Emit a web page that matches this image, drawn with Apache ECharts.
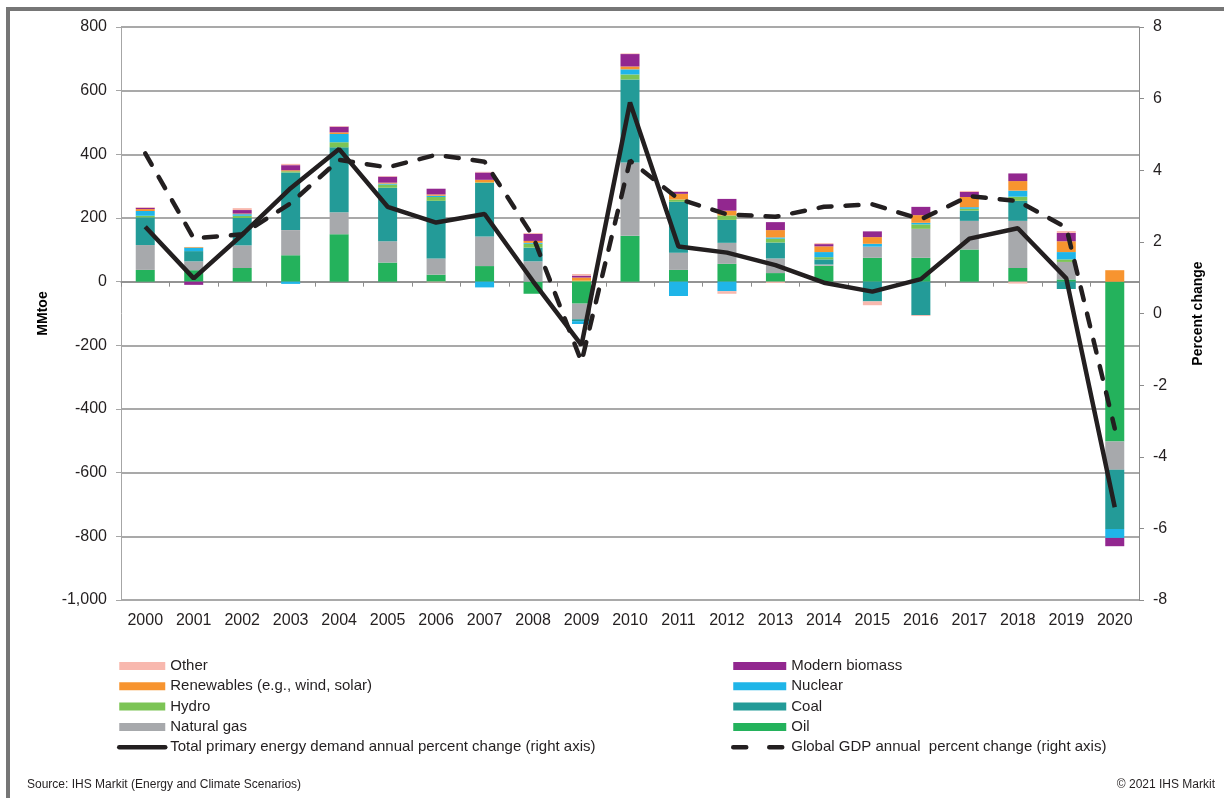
<!DOCTYPE html>
<html>
<head>
<meta charset="utf-8">
<script src="https://cdn.jsdelivr.net/npm/echarts@6/dist/echarts.min.js"></script>
<style>
html, body { margin: 0; padding: 0; background: #fff; }
#container { width: 1224px; height: 798px; }
</style>
</head>
<body>
<div id="container"></div>
<script>
// categories
var years = ['2000','2001','2002','2003','2004','2005','2006','2007','2008','2009','2010',
             '2011','2012','2013','2014','2015','2016','2017','2018','2019','2020'];

// MMtoe change by fuel (left axis)
var oil      = [37, 36, 43, 83, 149, 60, 22, 49, -38, -69, 144, 37, 56, 27, 50, 75, 75, 101, 43, 7, -502];
var gas      = [78, 28, 71, 79, 69, 67, 51, 93, 64, -49, 230, 54, 66, 46, 4, 35, 91, 90, 148, 55, -89];
var coal     = [87, 32, 86, 181, 204, 168, 181, 168, 43, -6, 261, 160, 72, 50, 16, -62, -105, 32, 63, -23, -186];
var hydro    = [5, 0, 7, 4, 16, 10, 12, 2, 12, 3, 16, 7, 14, 12, 7, 0, 14, 6, 13, 8, 0];
var nuclear  = [15, 11, 5, -7, 26, 3, 4, -18, 3, -9, 16, -45, -30, 4, 16, 9, 5, 5, 19, 23, -28];
var renew    = [6, 2, 2, 3, 5, 3, 4, 8, 6, 10, 9, 18, 15, 23, 18, 21, 24, 32, 30, 34, 36];
var biomass  = [4, -10, 11, 16, 18, 19, 18, 23, 22, 6, 39, 6, 37, 25, 7, 18, 26, 16, 24, 26, -26];
var other    = [2, 0, 6, 4, 2, 2, -2, 2, 3, 5, 2, 2, -8, -4, 3, -12, -3, 3, -6, 6, 0];

// percent change (right axis)
var totalDemand = [2.42, 0.98, 2.2, 3.5, 4.59, 2.98, 2.54, 2.78, 0.9, -0.88, 5.89, 1.87, 1.70, 1.35, 0.86, 0.61, 0.96, 2.09, 2.38, 0.98, -5.41];
var gdp         = [4.47, 2.10, 2.21, 3.08, 4.29, 4.08, 4.43, 4.24, 2.15, -1.35, 4.27, 3.2, 2.77, 2.70, 2.98, 3.05, 2.63, 3.28, 3.14, 2.4, -3.21];

var chart = echarts.init(document.getElementById('container'));
var font = 'Liberation Sans, Arial, sans-serif';

function bar(name, data, color) {
    return {
        name: name, type: 'bar', stack: 'fuel', data: data,
        barWidth: 19,
        itemStyle: { color: color },
        emphasis: { disabled: true }
    };
}

var option = {
    animation: false,
    textStyle: { fontFamily: font },
    grid: { left: 121, right: 85, top: 27, bottom: 198 },
    legend: [
        {   // left column
            orient: 'vertical', left: 112, top: 651,
            itemWidth: 46, itemHeight: 8, itemGap: 0.3,
            textStyle: { fontSize: 15, color: '#231f20', lineHeight: 20 },
            data: [
                { name: 'Other', icon: 'rect' },
                { name: 'Renewables (e.g., wind, solar)', icon: 'rect' },
                { name: 'Hydro', icon: 'rect' },
                { name: 'Natural gas', icon: 'rect' },
                { name: 'Total primary energy demand annual percent change (right axis)',
                  itemStyle: { opacity: 0 }, lineStyle: { width: 4.5, cap: 'round' } }
            ]
        },
        {   // right column
            orient: 'vertical', left: 726, top: 651,
            itemWidth: 53, itemHeight: 8, itemGap: 0.3,
            textStyle: { fontSize: 15, color: '#231f20', lineHeight: 20 },
            data: [
                { name: 'Modern biomass', icon: 'rect' },
                { name: 'Nuclear', icon: 'rect' },
                { name: 'Coal', icon: 'rect' },
                { name: 'Oil', icon: 'rect' },
                { name: 'Global GDP annual  percent change (right axis)',
                  itemStyle: { opacity: 0 }, lineStyle: { width: 4.5, type: [13, 23], cap: 'round' } }
            ]
        }
    ],
    xAxis: [
        {   // labels at the bottom
            type: 'category', data: years, position: 'bottom',
            axisLine: { show: false, onZero: false },
            axisTick: { show: false },
            axisLabel: { fontSize: 16, color: '#231f20', margin: 13 }
        },
        {   // zero line with ticks
            type: 'category', data: years, position: 'bottom',
            axisLine: { show: true, onZero: true, onZeroAxisIndex: 0, lineStyle: { color: '#8c8c8c', width: 1.5 } },
            axisTick: { show: true, length: 5, lineStyle: { color: '#8c8c8c' } },
            axisLabel: { show: false }
        }
    ],
    yAxis: [
        {   // 左轴 MMtoe
            type: 'value', min: -1000, max: 800, interval: 200,
            name: 'MMtoe', nameLocation: 'middle', nameGap: 71, nameRotate: 90,
            nameTextStyle: { fontSize: 14, fontWeight: 'bold', color: '#000' },
            axisLine: { show: true, lineStyle: { color: '#a6a6a6' } },
            axisTick: { show: true, length: 5, lineStyle: { color: '#a6a6a6' } },
            axisLabel: {
                fontSize: 16, color: '#231f20', margin: 14,
                formatter: function (v) { return v.toLocaleString('en-US'); }
            },
            splitLine: { lineStyle: { color: '#8c8c8c', width: 1.5 } }
        },
        {   // 右轴 percent
            type: 'value', min: -8, max: 8, interval: 2,
            name: 'Percent change', nameLocation: 'middle', nameGap: 52, nameRotate: 90,
            nameTextStyle: { fontSize: 14, fontWeight: 'bold', color: '#000' },
            axisLine: { show: true, lineStyle: { color: '#8c8c8c' } },
            axisTick: { show: true, length: 5, lineStyle: { color: '#8c8c8c' } },
            axisLabel: { fontSize: 16, color: '#231f20', margin: 14 },
            splitLine: { show: false }
        }
    ],
    series: [
        bar('Oil', oil, '#24b25c'),
        bar('Natural gas', gas, '#a7a9ac'),
        bar('Coal', coal, '#239b98'),
        bar('Hydro', hydro, '#7cc455'),
        bar('Nuclear', nuclear, '#1fb5e8'),
        bar('Renewables (e.g., wind, solar)', renew, '#f7942f'),
        bar('Modern biomass', biomass, '#92278f'),
        bar('Other', other, '#f8b8ae'),
        {
            name: 'Total primary energy demand annual percent change (right axis)',
            type: 'line', yAxisIndex: 1, data: totalDemand, symbol: 'none', z: 5,
            lineStyle: { color: '#231f20', width: 4.5 },
            itemStyle: { color: '#231f20' }
        },
        {
            name: 'Global GDP annual  percent change (right axis)',
            type: 'line', yAxisIndex: 1, data: gdp, symbol: 'none', z: 5,
            lineStyle: { color: '#231f20', width: 4.5, type: [13, 14], cap: 'round' },
            itemStyle: { color: '#231f20' }
        }
    ],
    graphic: [
        { type: 'line', shape: { x1: 8, y1: 9, x2: 1224, y2: 9 }, style: { stroke: '#767676', lineWidth: 4 } },
        { type: 'line', shape: { x1: 8, y1: 7, x2: 8, y2: 798 }, style: { stroke: '#767676', lineWidth: 4 } },
        { type: 'text', left: 27, top: 779, style: { text: 'Source: IHS Markit (Energy and Climate Scenarios)', font: '12px ' + font, fill: '#231f20' } },
        { type: 'text', right: 9, top: 779, style: { text: '© 2021 IHS Markit', font: '12px ' + font, fill: '#231f20' } }
    ]
};

chart.setOption(option);
</script>
</body>
</html>
